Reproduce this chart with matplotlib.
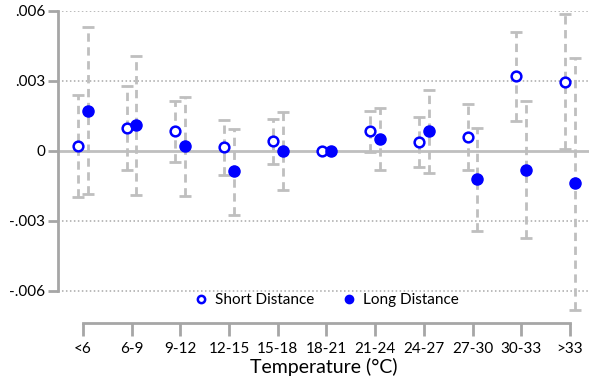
import numpy as np
import matplotlib
matplotlib.use('Agg')
import matplotlib.pyplot as plt

plt.rcParams['font.family'] = ['Lato', 'DejaVu Sans']

## Datos
categorias = ['<6', '6-9', '9-12', '12-15', '15-18', '18-21',
              '21-24', '24-27', '27-30', '30-33', '>33']

corto = [0.00020, 0.00099, 0.00084, 0.00016, 0.00040, 0.0,
         0.00084, 0.00037, 0.00059, 0.00320, 0.00296]
corto_sup = [0.00240, 0.00279, 0.00214, 0.00132, 0.00136, 0.0,
             0.00170, 0.00146, 0.00200, 0.00509, 0.00586]
corto_inf = [-0.00197, -0.00081, -0.00047, -0.00103, -0.00056, 0.0,
             -0.00004, -0.00069, -0.00081, 0.00127, 0.00007]

largo = [0.00171, 0.00109, 0.00020, -0.00087, 0.0, 0.0,
         0.00050, 0.00084, -0.00123, -0.00081, -0.00140]
largo_sup = [0.00529, 0.00407, 0.00230, 0.00093, 0.00166, 0.0,
             0.00184, 0.00260, 0.00097, 0.00214, 0.00397]
largo_inf = [-0.00184, -0.00189, -0.00193, -0.00276, -0.00167, 0.0,
             -0.00081, -0.00094, -0.00344, -0.00374, -0.00683]

yticks = [-0.006, -0.003, 0, 0.003, 0.006]
ytick_labels = ['-.006', '-.003', '0', '.003', '.006']

gris = '#bfbfbf'
gris_eje = '#a6a6a6'
azul = '#0000ff'

x = np.arange(len(categorias))

fig = plt.figure(figsize=(5.89, 3.80), dpi=100)
ax = fig.add_axes([58/589, 57/380, 1 - 58/589, 312.3/380])

# lineas de referencia
for yv in [-0.006, -0.003, 0.003, 0.006]:
    ax.axhline(yv, color='#a8a8a8', linestyle=(0, (1, 1.6)), linewidth=1.1, zorder=0)
ax.axhline(0, color=gris, linewidth=2, zorder=1)

def barras(xs, y, sup, inf):
    for xi, yi, s, i in zip(xs, y, sup, inf):
        if s == i:
            continue
        ax.plot([xi, xi], [i, s], color=gris, linewidth=2, linestyle=(0, (3, 2)), zorder=2)
    ax.errorbar(xs, y, yerr=[np.array(y) - np.array(inf), np.array(sup) - np.array(y)],
                fmt='none', ecolor=gris, elinewidth=0, capsize=4, capthick=2, zorder=2)

barras(x - 0.1, corto, corto_sup, corto_inf)
barras(x + 0.1, largo, largo_sup, largo_inf)

ax.plot(x - 0.1, corto, 'o', markersize=7, markerfacecolor='white',
        markeredgecolor=azul, markeredgewidth=1.8, linestyle='none',
        label='Short Distance', zorder=3)
ax.plot(x + 0.1, largo, 'o', markersize=8, color=azul, linestyle='none',
        label='Long Distance', zorder=3)

ax.set_xlim(-0.51, 10.39)
ax.set_ylim(-0.00738, 0.006)

for s in ['top', 'right']:
    ax.spines[s].set_visible(False)
ax.spines['left'].set_bounds(-0.006, 0.006)
ax.spines['bottom'].set_bounds(0, 10)
for s in ['left', 'bottom']:
    ax.spines[s].set_color(gris_eje)
    ax.spines[s].set_linewidth(2)

ax.set_yticks(yticks)
ax.set_yticklabels(ytick_labels)
ax.set_xticks(x)
ax.set_xticklabels(categorias)
ax.tick_params(axis='both', colors=gris_eje, width=2, labelsize=11, labelcolor='black')
ax.tick_params(axis='y', length=7, pad=2)
ax.tick_params(axis='x', length=9, pad=5)
ax.set_xlabel('Temperature (°C)', fontsize=14, labelpad=1)

leg = ax.legend(loc='center', bbox_to_anchor=(326/589, 1 - 300/380), bbox_transform=fig.transFigure,
                ncol=2, frameon=False, fontsize=11, handletextpad=0.4, columnspacing=1.8,
                handlelength=1.0, borderpad=0, markerscale=0.75)

fig.savefig('out.png', dpi=100)
